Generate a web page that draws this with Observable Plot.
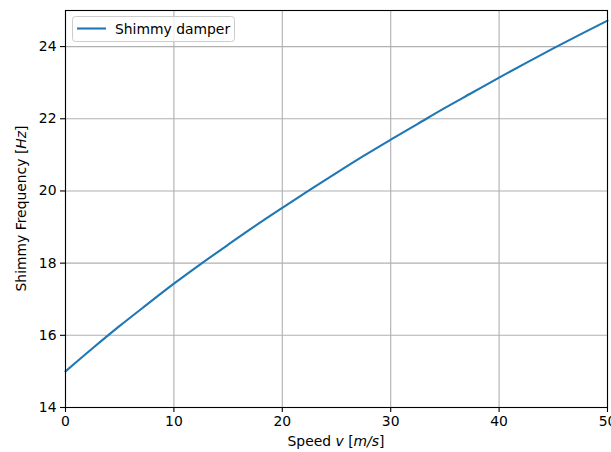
<!DOCTYPE html>
<html>
<head>
<meta charset="utf-8">
<script src="https://cdn.jsdelivr.net/npm/d3@7"></script>
<script src="https://cdn.jsdelivr.net/npm/@observablehq/plot@0.6"></script>
<style>body{margin:0;background:white;}</style>
</head>
<body>
<div id="chart"></div>
<script>
const speeds = [0, 2.5, 5, 7.5, 10, 12.5, 15, 17.5, 20, 22.5, 25, 27.5, 30, 32.5, 35, 37.5, 40, 42.5, 45, 47.5, 50];
const frequencies = [15.0, 15.64, 16.26, 16.85, 17.43, 17.98, 18.51, 19.03, 19.53, 20.02, 20.50, 20.97, 21.42, 21.86, 22.30, 22.72, 23.14, 23.55, 23.95, 24.34, 24.72];
const xTicks = [0, 10, 20, 30, 40, 50];
const yTicks = [14, 16, 18, 20, 22, 24];
const seriesName = "Shimmy damper";

const data = speeds.map((v, i) => ({v, f: frequencies[i]}));

const chart = Plot.plot({
  width: 611,
  height: 452,
  marginLeft: 65,
  marginRight: 4,
  marginTop: 10,
  marginBottom: 45,
  x: {domain: [0, 50]},
  y: {domain: [14, 25]},
  style: {fontFamily: "DejaVu Sans", fontSize: "13.9px", background: "white", color: "black"},
  marks: [
    Plot.gridX(xTicks, {stroke: "#b0b0b0", strokeOpacity: 1, strokeWidth: 1.1}),
    Plot.gridY(yTicks, {stroke: "#b0b0b0", strokeOpacity: 1, strokeWidth: 1.1}),
    Plot.line(data, {x: "v", y: "f", stroke: "#1f77b4", strokeWidth: 2.1, curve: "monotone-x"}),
    Plot.frame({stroke: "black", strokeWidth: 1.1}),
    Plot.axisX(xTicks, {tickSize: 5, tickPadding: 4, label: null, strokeWidth: 1.1}),
    Plot.axisY(yTicks, {tickSize: 5, tickPadding: 4, label: null, strokeWidth: 1.1})
  ]
});
document.getElementById("chart").appendChild(chart);

const svg = d3.select(chart);
const font = "DejaVu Sans";

// x label
const xl = svg.append("text").attr("x", 336).attr("y", 446).attr("text-anchor", "middle")
  .attr("font-family", font).attr("font-size", "13.9px").attr("fill", "black");
xl.append("tspan").text("Speed ");
xl.append("tspan").attr("font-style", "italic").text("v");
xl.append("tspan").text(" [");
xl.append("tspan").attr("font-style", "italic").text("m/s");
xl.append("tspan").text("]");

// y label
const yl = svg.append("text").attr("transform", "translate(26,208.5) rotate(-90)").attr("text-anchor", "middle")
  .attr("font-family", font).attr("font-size", "13.9px").attr("fill", "black");
yl.append("tspan").text("Shimmy Frequency [");
yl.append("tspan").attr("font-style", "italic").text("Hz");
yl.append("tspan").text("]");

// legend
const lg = svg.append("g");
lg.append("rect").attr("x", 72.5).attr("y", 16.5).attr("width", 162).attr("height", 25).attr("rx", 3)
  .attr("fill", "white").attr("fill-opacity", 0.8).attr("stroke", "#cccccc").attr("stroke-width", 1);
lg.append("line").attr("x1", 77).attr("x2", 106).attr("y1", 28.5).attr("y2", 28.5)
  .attr("stroke", "#1f77b4").attr("stroke-width", 2.1);
lg.append("text").attr("x", 115).attr("y", 33.5).attr("text-anchor", "start").attr("font-family", font).attr("font-size", "13.9px")
  .attr("fill", "black").text(seriesName);
</script>
</body>
</html>
